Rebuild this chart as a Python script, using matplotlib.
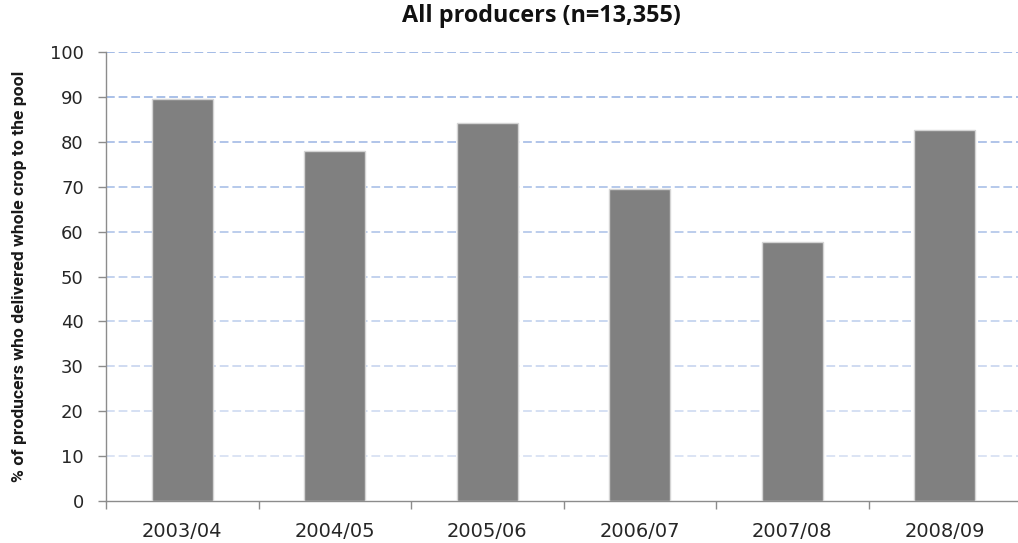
import matplotlib
matplotlib.use("Agg")
import matplotlib.pyplot as plt
import numpy as np
from matplotlib.colors import to_rgb

categories = ["2003/04", "2004/05", "2005/06", "2006/07", "2007/08", "2008/09"]
values = [89.5, 77.9, 84.2, 69.4, 57.6, 82.6]
yticks = [0, 10, 20, 30, 40, 50, 60, 70, 80, 90, 100]
title = "All producers (n=13,355)"
ylabel = "% of producers who delivered whole crop to the pool"

plt.rcParams["font.family"] = ["DejaVu Sans"]

fig = plt.figure(figsize=(10.18, 5.43), dpi=100)
ax = fig.add_axes([106/1018, 1-501/543, 915/1018, 449/543])

x = np.arange(len(categories))
ax.bar(x, values, width=0.4, color="#808080", edgecolor="#d4d4d4", linewidth=1.0, zorder=3)

ax.set_xlim(-0.5, len(categories) - 0.5)
ax.set_ylim(0, 100)

# gradient dashed gridlines
top_c = np.array(to_rgb("#a3bbe6"))
bot_c = np.array(to_rgb("#e2e9f6"))
for v in yticks[1:]:
    t = v / 100.0
    c = bot_c + (top_c - bot_c) * t
    ax.axhline(v, color=c, linewidth=1.4, linestyle=(0, (4.5, 2)), zorder=1)

ax.set_yticks(yticks)
ax.set_yticklabels([str(v) for v in yticks])
ax.set_xticks(x)
ax.set_xticklabels(categories)
ax.set_xticks(np.arange(-0.5, len(categories) + 0.5, 1.0), minor=True)

for s in ["top", "right"]:
    ax.spines[s].set_visible(False)
for s in ["left", "bottom"]:
    ax.spines[s].set_color("#8c8c8c")
    ax.spines[s].set_linewidth(1.0)

ax.tick_params(axis="y", direction="out", length=6, width=1.0, color="#8c8c8c",
               pad=10, labelsize=13, labelcolor="#262626")
ax.tick_params(axis="x", which="major", length=0, pad=15, labelsize=14, labelcolor="#262626")
ax.tick_params(axis="x", which="minor", direction="out", length=6, width=1.0, color="#8c8c8c")

ax.set_ylabel(ylabel, fontsize=12.6, fontweight="bold", color="#1a1a1a",
              family=["Roboto", "DejaVu Sans"])
ax.yaxis.set_label_coords(-0.086, 0.5)

fig.text(541/1018, 1-16/543, title, ha="center", va="center", fontsize=16.8,
         fontweight="bold", color="#111111", family=["Open Sans", "DejaVu Sans"])

fig.savefig("out.png", dpi=100)
